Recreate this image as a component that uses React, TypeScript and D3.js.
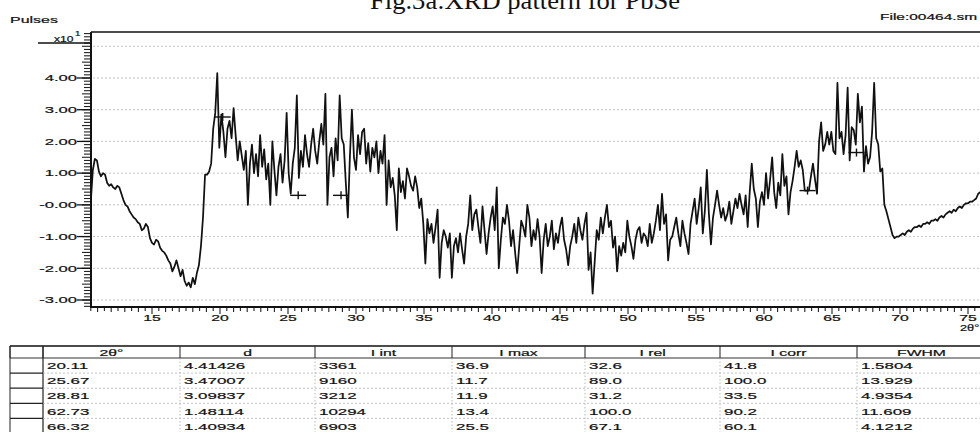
import React from 'react';
import * as d3 from 'd3';

const chartTitle = 'Fig.3a:XRD pattern for PbSe';
const yAxisTitle = 'Pulses';
const yAxisFactor = 'x10';
const fileLabel = 'File:00464.sm';
const xAxisTitle = '2θ°';

const scanStart = 10.5;
const scanStep = 0.15;
const pulses = [
  0.1, 1.1, 1.45, 1.4, 1.05, 0.9, 1.0, 0.95, 0.7, 0.6,
  0.65, 0.55, 0.5, 0.6, 0.55, 0.35, 0.15, 0.0, -0.05, -0.2,
  -0.3, -0.4, -0.45, -0.55, -0.6, -0.8, -0.75, -0.6, -0.7, -1.05,
  -1.2, -1.25, -1.1, -1.15, -1.35, -1.45, -1.5, -1.6, -1.75, -1.85,
  -2.1, -1.95, -1.75, -2.0, -2.25, -2.05, -2.4, -2.55, -2.45, -2.6,
  -2.3, -2.5, -2.15, -1.9, -1.3, -0.4, 0.95, 0.95, 1.05, 1.3,
  2.4, 2.9, 4.15, 1.8, 2.85, 2.3, 1.5, 2.4, 2.65, 2.1,
  3.05, 2.2, 1.4, 2.0, 1.55, 1.1, 1.7, 0.0, 1.3, 1.9,
  1.0, 1.6, 0.9, 2.2, 1.2, 1.75, 0.8, 1.3, 0.0, 2.0,
  1.1, 0.3, 1.2, 1.6, 0.7, 1.4, 2.9, 1.0, 0.35, 1.3,
  1.8, 3.45, 0.85, 1.7, 1.2, 2.2, 1.6, 1.2, 1.9, 2.4,
  1.7, 1.3, 2.0, 2.55, 1.9, 3.5, 0.0, 1.5, 1.8, 0.9,
  2.1, 1.4, 3.45, 2.1, 1.9, 0.7, -0.4, 1.5, 3.0, 1.5,
  1.1, 2.2, 1.6, 2.3, 2.4, 1.3, 1.95, 1.05, 1.8, 1.5,
  2.0, 1.0, 1.7, 1.3, 2.2, 0.0, 1.4, 0.55, 0.85, 0.3,
  -0.8, 1.15, 0.4, 0.75, 0.2, 1.15, 0.9, 0.6, 0.45, 0.9,
  0.55, -0.1, 0.2, -0.6, -1.85, -0.45, -0.9, -0.6, -1.2, -0.7,
  -0.15, -2.3, -1.2, -0.8, -1.0, -1.35, -0.9, -2.3, -1.3, -1.05,
  -1.5, -0.9, -1.4, -1.85, -1.0, -0.6, 0.3, -0.8, -0.3, -0.15,
  -0.7, -1.2, -0.05, -0.8, -1.55, -0.9, -0.4, -0.05, -0.8, 0.55,
  -2.0, -1.1, -0.4, -0.6, 0.0, -0.5, -1.3, -0.8, -1.5, -2.15,
  -1.3, -0.5, -0.7, -1.0, 0.0, -0.4, -1.3, -0.8, -1.1, -0.45,
  -1.0, -2.15, -1.1, -0.6, -1.3, -1.0, -0.5, -1.4, -0.9, -1.2,
  -0.7, -0.4, -1.1, -1.4, -1.9, -1.3, -1.0, -0.6, -1.2, -0.4,
  -0.8, -1.1, -0.6, -0.25, -2.05, -1.5, -2.8, -1.8, -0.8, -1.1,
  -0.4, -0.9, -0.4, 0.0, -0.7, -0.5, -1.35, -1.0, -2.1, -1.3,
  -1.6, -1.2, -1.5, -0.5, -1.0, -1.3, -1.7, -1.1, -0.8, -0.7,
  -1.2, -0.9, -1.0, -1.3, -0.6, -1.2, -0.9, -0.5, 0.0, -0.8,
  0.35, -0.6, -0.3, -1.75, -1.1, -1.0, -0.7, -0.4, -0.9, -1.3,
  -0.5, -0.9, -1.2, -1.55, -0.6, -0.2, 0.2, -0.6, -0.1, 0.55,
  -0.9, -0.2, 1.1, -0.3, -1.25, -0.4, 0.0, 0.45, 0.0, -0.4,
  -0.1, -0.5, -0.3, 0.1, -0.6, -0.2, 0.2, -0.1, 0.35, 0.0,
  -0.3, 0.3, -0.7, 0.4, 1.3, 0.5, 0.2, -0.7, 0.1, 0.4,
  0.0, 1.0, 0.2, 0.8, 1.5, 0.4, -0.1, 0.7, 0.3, 1.6,
  0.6, 0.9, -0.3, 0.4, 0.75, 1.2, 1.7, 1.2, 1.4, 1.1,
  0.45, 0.45, 0.45, 0.9, 1.3, 0.8, 0.35, 2.0, 2.6, 1.7,
  1.9, 2.3, 1.9, 2.3, 1.7, 1.6, 3.85, 2.1, 2.3, 1.6,
  2.2, 3.7, 1.4, 2.45, 2.35, 1.9, 3.5, 2.6, 3.1, 1.05,
  1.85, 1.3, 1.5, 2.3, 3.85, 2.1, 1.9, 1.05, 1.15, 0.0,
  -0.2, -0.45, -0.7, -0.95, -1.05, -1.0, -1.0, -0.95, -0.9, -0.95,
  -0.85, -0.8, -0.85, -0.75, -0.7, -0.7, -0.65, -0.7, -0.6, -0.6,
  -0.55, -0.6, -0.5, -0.5, -0.45, -0.5, -0.4, -0.35, -0.4, -0.3,
  -0.25, -0.2, -0.25, -0.15, -0.2, -0.1, -0.05, -0.1, 0.0, 0.05,
  0.05, 0.1, 0.1, 0.15, 0.2, 0.35, 0.4, 0.3,
];

const yTickValues = [4, 3, 2, 1, 0, -1, -2, -3];
const yTickLabels = ['4.00', '3.00', '2.00', '1.00', '-0.00', '-1.00', '-2.00', '-3.00'];
const yGridValues = [5, 4, 3, 2, 1, 0, -1, -2, -3];
const xTickValues = [15, 20, 25, 30, 35, 40, 45, 50, 55, 60, 65, 70, 75];
const xTickLabels = ['15', '20', '25', '30', '35', '40', '45', '50', '55', '60', '65', '70', '75'];

// peak markers as seen on the plot
const peakMarkTheta = [20.2, 25.75, 28.9, 63.2, 66.8];
const peakMarkLevel = [2.77, 0.3, 0.3, 0.45, 1.65];

// peak table
const tableHeaders = ['2θ°', 'd', 'I int', 'I max', 'I rel', 'I corr', 'FWHM'];
const colTheta = ['20.11', '25.67', '28.81', '62.73', '66.32'];
const colD = ['4.41426', '3.47007', '3.09837', '1.48114', '1.40934'];
const colIint = ['3361', '9160', '3212', '10294', '6903'];
const colImax = ['36.9', '11.7', '11.9', '13.4', '25.5'];
const colIrel = ['32.6', '89.0', '31.2', '100.0', '67.1'];
const colIcorr = ['41.8', '100.0', '33.5', '90.2', '60.1'];
const colFwhm = ['1.5804', '13.929', '4.9354', '11.609', '4.1212'];

const FONT = '"Liberation Sans", Arial, sans-serif';

function WText(props: { x: number; y: number; s?: number; size?: number; anchor?: string; children: React.ReactNode }) {
  const { x, y, s = 1.75, size = 9, anchor = 'start', children } = props;
  return (
    <text
      transform={`translate(${x},${y}) scale(${s},1)`}
      fontSize={size}
      textAnchor={anchor as any}
      fontFamily={FONT}
      fill="#111"
      stroke="#111"
      strokeWidth={0.2}
    >
      {children}
    </text>
  );
}

export default function App() {
  const W = 980;
  const H = 432;
  const left = 91;
  const top = 32;
  const bottom = 307;
  const right = 985;

  const x = d3.scaleLinear().domain([15, 75]).range([152, 968]);
  const y = d3.scaleLinear().domain([-3, 4]).range([300, 78]);

  const line = d3
    .line<number>()
    .x((_, i) => x(scanStart + i * scanStep))
    .y((d) => y(d));

  const yMinor = d3.range(-32, 55).map((k) => k / 10);
  const xMinor = d3.range(21, 153).map((k) => k / 2);

  const colEdges = [10, 43, 180, 315, 452, 585, 720, 857, 990];
  const headTop = 346;
  const headBottom = 358;
  const rowH = 15.1;
  const columns = [colTheta, colD, colIint, colImax, colIrel, colIcorr, colFwhm];

  return (
    <svg
      width={W}
      height={H}
      style={{ position: 'absolute', left: 0, top: 0, background: '#fff' }}
    >
      <rect x={0} y={0} width={W} height={H} fill="#fff" />
      <defs>
        <clipPath id="plotClip">
          <rect x={left} y={top} width={right - left} height={bottom - top} />
        </clipPath>
      </defs>

      {/* title (cut at top, as in the scan) */}
      <text
        x={370}
        y={9}
        fontFamily='"Liberation Serif", "Times New Roman", serif'
        fontSize={25}
        textLength={310}
        lengthAdjust="spacingAndGlyphs"
        fill="#111"
      >
        {chartTitle}
      </text>

      <WText x={10} y={23} size={9.5} s={1.68}>{yAxisTitle}</WText>
      <WText x={880} y={20} size={9} s={1.72}>{fileLabel}</WText>

      {/* gridlines */}
      {yGridValues.map((v) => (
        <line
          key={'g' + v}
          x1={left + 2}
          x2={right}
          y1={y(v)}
          y2={y(v)}
          stroke="#b4b4b4"
          strokeWidth={0.8}
          strokeDasharray="2 2"
        />
      ))}

      {/* y minor ticks */}
      {yMinor.map((v) => (
        <line
          key={'ym' + v}
          x1={Math.abs(v * 2 - Math.round(v * 2)) < 1e-6 ? 82 : 84}
          x2={left}
          y1={y(v)}
          y2={y(v)}
          stroke="#222"
          strokeWidth={1.1}
        />
      ))}
      {/* y major ticks and labels */}
      {yTickValues.map((v, i) => (
        <g key={'yt' + v}>
          <line x1={77} x2={left} y1={y(v)} y2={y(v)} stroke="#111" strokeWidth={1.3} />
          <WText x={77} y={y(v) + 3.3} anchor="end" size={9.5} s={1.75}>
            {yTickLabels[i]}
          </WText>
        </g>
      ))}
      {/* x10^1 factor */}
      <line x1={38} x2={left} y1={43} y2={43} stroke="#111" strokeWidth={1.4} />
      <WText x={54} y={41.5} size={8.5} s={1.42}>{yAxisFactor}</WText>
      <WText x={75} y={36} size={7.5} s={1.3}>1</WText>

      {/* x ticks */}
      {xMinor.map((v) => {
        const major = v % 5 === 0;
        const whole = v % 1 === 0;
        return (
          <line
            key={'xm' + v}
            x1={x(v)}
            x2={x(v)}
            y1={bottom}
            y2={bottom + (major ? 7 : whole ? 5 : 4)}
            stroke="#222"
            strokeWidth={1.1}
          />
        );
      })}
      {xTickValues.map((v, i) => (
        <WText key={'xl' + v} x={x(v)} y={321} anchor="middle" size={9} s={1.75}>
          {xTickLabels[i]}
        </WText>
      ))}
      <WText x={960} y={331} size={8.5} s={1.5}>{xAxisTitle}</WText>

      {/* frame */}
      <line x1={left} x2={right} y1={top} y2={top} stroke="#111" strokeWidth={1.6} />
      <line x1={left} x2={left} y1={top} y2={bottom + 1} stroke="#111" strokeWidth={2} />
      <line x1={left} x2={right} y1={bottom} y2={bottom} stroke="#111" strokeWidth={2} />

      {/* trace */}
      <g clipPath="url(#plotClip)">
        <path d={line(pulses) || ''} fill="none" stroke="#111" strokeWidth={1.75} strokeLinejoin="round" />
        {peakMarkTheta.map((t, i) => (
          <g key={'pk' + i}>
            <line x1={x(t) - 8} x2={x(t) + 8} y1={y(peakMarkLevel[i])} y2={y(peakMarkLevel[i])} stroke="#111" strokeWidth={1.4} />
            <line x1={x(t)} x2={x(t)} y1={y(peakMarkLevel[i]) - 4} y2={y(peakMarkLevel[i]) + 4} stroke="#111" strokeWidth={1.4} />
          </g>
        ))}
      </g>

      {/* table */}
      <g>
        <line x1={10} x2={W} y1={headTop} y2={headTop} stroke="#111" strokeWidth={1.4} />
        <line x1={10} x2={W} y1={headBottom} y2={headBottom} stroke="#333" strokeWidth={1} />
        {colEdges.slice(0, 8).map((cx, i) => (
          <line
            key={'hv' + i}
            x1={cx}
            x2={cx}
            y1={headTop}
            y2={headBottom}
            stroke="#222"
            strokeWidth={1}
          />
        ))}
        <line x1={10} x2={10} y1={headTop} y2={H} stroke="#222" strokeWidth={1} />
        <line x1={43} x2={43} y1={headTop} y2={H} stroke="#222" strokeWidth={1.2} />
        {colEdges.slice(2, 8).map((cx, i) => (
          <line
            key={'dv' + i}
            x1={cx}
            x2={cx}
            y1={headBottom}
            y2={H}
            stroke="#aaa"
            strokeWidth={0.8}
            strokeDasharray="1.5 2"
          />
        ))}
        {colTheta.map((_, r) => {
          const ry = headBottom + rowH * (r + 1);
          return (
            <g key={'rl' + r}>
              <line x1={10} x2={43} y1={ry} y2={ry} stroke="#222" strokeWidth={1.2} />
              <line x1={43} x2={W} y1={ry} y2={ry} stroke="#b4b4b4" strokeWidth={0.8} strokeDasharray="2 2" />
            </g>
          );
        })}
        {tableHeaders.map((h, i) => (
          <WText
            key={'th' + i}
            x={(colEdges[i + 1] + colEdges[i + 2]) / 2 - (i === 6 ? 2 : 0)}
            y={355.5}
            anchor="middle"
            size={9}
            s={1.75}
          >
            {h}
          </WText>
        ))}
        {columns.map((col, c) =>
          col.map((v, r) => (
            <WText
              key={'c' + c + 'r' + r}
              x={colEdges[c + 1] + 4}
              y={headBottom + rowH * r + 11.2}
              size={9.5}
              s={1.78}
            >
              {v}
            </WText>
          ))
        )}
      </g>
    </svg>
  );
}
